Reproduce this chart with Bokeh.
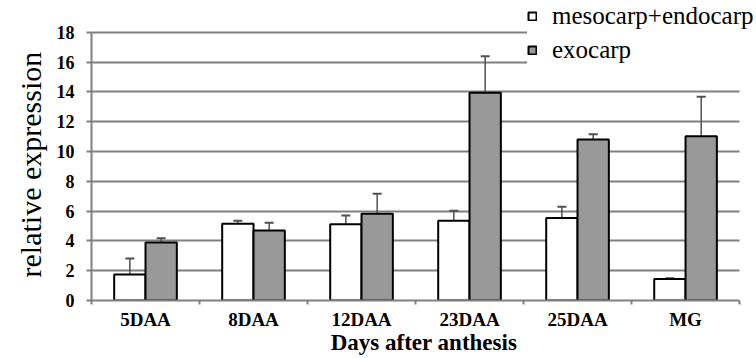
from bokeh.plotting import figure
from bokeh.models import (ColumnDataSource, Range1d, FixedTicker, Whisker, TeeHead,
                          Legend, LegendItem, Title)
from bokeh.embed import file_html
from bokeh.resources import INLINE

categories = ["5DAA", "8DAA", "12DAA", "23DAA", "25DAA", "MG"]
meso_values = [1.75, 5.15, 5.12, 5.35, 5.53, 1.45]
meso_errors = [1.07, 0.20, 0.58, 0.67, 0.76, 0.05]
exo_values = [3.90, 4.70, 5.82, 13.95, 10.80, 11.03]
exo_errors = [0.28, 0.52, 1.35, 2.45, 0.36, 2.65]
y_ticks = [0, 2, 4, 6, 8, 10, 12, 14, 16, 18]
series_names = ["mesocarp+endocarp", "exocarp"]
y_title = "relative expression"
x_title = "Days after anthesis"

FONT = "'Liberation Serif', 'Times New Roman', serif"
GRID = "#7f7f7f"
BAR_W = 0.29
OFF = 0.145
N = len(categories)

centers = [i + 0.5 for i in range(N)]

meso_src = ColumnDataSource(dict(
    x=[c - OFF for c in centers], top=meso_values,
    upper=[v + e for v, e in zip(meso_values, meso_errors)],
    lower=[v - e for v, e in zip(meso_values, meso_errors)]))
exo_src = ColumnDataSource(dict(
    x=[c + OFF for c in centers], top=exo_values,
    upper=[v + e for v, e in zip(exo_values, exo_errors)],
    lower=[v - e for v, e in zip(exo_values, exo_errors)]))

# frame reaches the right edge so the legend text is not clipped;
# axis and grid lines stop at the last category boundary
p = figure(width=756, height=358, output_backend="svg", toolbar_location=None,
           x_range=Range1d(0, N + 0.157), y_range=Range1d(0, 20.0),
           min_border_left=91, min_border_right=0, min_border_top=2, min_border_bottom=58)
p.outline_line_color = None
p.background_fill_color = "white"

r_meso = p.vbar(x="x", top="top", width=BAR_W, source=meso_src,
                fill_color="white", line_color="black", line_width=2)
r_exo = p.vbar(x="x", top="top", width=BAR_W, source=exo_src,
               fill_color="#999999", line_color="black", line_width=2)

for src in (meso_src, exo_src):
    w = Whisker(base="x", upper="upper", lower="lower", source=src,
                line_color="#505050", line_width=1.5,
                upper_head=TeeHead(size=9, line_color="#505050", line_width=2),
                lower_head=TeeHead(size=9, line_color="#505050", line_width=2))
    p.add_layout(w)

# grid
p.xgrid.grid_line_color = None
g = p.ygrid[0]
g.ticker = FixedTicker(ticks=y_ticks)
g.grid_line_color = GRID
g.grid_line_width = 2
g.level = "underlay"
if "cross_bounds" in g.properties():
    g.cross_bounds = (0, N)

# y axis
ya = p.yaxis[0]
ya.ticker = FixedTicker(ticks=y_ticks)
ya.bounds = (0, 18)
ya.axis_line_color = GRID
ya.axis_line_width = 2
ya.major_tick_line_color = GRID
ya.major_tick_line_width = 2
ya.major_tick_out = 5
ya.major_tick_in = 0
ya.minor_tick_line_color = None
ya.major_label_text_font = FONT
ya.major_label_text_font_style = "bold"
ya.major_label_text_font_size = "18px"
ya.major_label_text_color = "black"
ya.major_label_standoff = 12

yt = Title(text=y_title, align="left", vertical_align="top", offset=23, standoff=10,
           text_font=FONT, text_font_style="normal", text_font_size="30px",
           text_color="black")
p.add_layout(yt, "left")

# x axis
xa = p.xaxis[0]
xa.bounds = (0, N)
xa.ticker = FixedTicker(ticks=centers, minor_ticks=list(range(N + 1)))
xa.major_label_overrides = {c: name for c, name in zip(centers, categories)}
xa.axis_line_color = GRID
xa.axis_line_width = 2
xa.major_tick_line_color = None
xa.major_tick_out = 0
xa.major_tick_in = 0
xa.minor_tick_line_color = GRID
xa.minor_tick_line_width = 2
xa.minor_tick_out = 4
xa.minor_tick_in = 0
xa.major_label_text_font = FONT
xa.major_label_text_font_style = "bold"
xa.major_label_text_font_size = "19px"
xa.major_label_text_color = "black"
xa.major_label_standoff = 4
xa.axis_label = x_title
xa.axis_label_text_font = FONT
xa.axis_label_text_font_style = "bold"
xa.axis_label_text_font_size = "23px"
xa.axis_label_text_color = "black"
xa.axis_label_text_line_height = 1.0
xa.axis_label_standoff = -3

legend = Legend(items=[LegendItem(label=series_names[0], renderers=[r_meso]),
                       LegendItem(label=series_names[1], renderers=[r_exo])],
                location=(436, 236), orientation="vertical",
                glyph_width=10, glyph_height=10, label_standoff=15,
                spacing=6, label_height=20, padding=6, margin=0,
                label_text_font=FONT, label_text_font_size="25px",
                label_text_color="black", label_text_baseline="middle",
                background_fill_color="white", background_fill_alpha=1.0,
                border_line_color=None)
p.add_layout(legend, "center")

open("out.html", "w").write(file_html(p, INLINE))
